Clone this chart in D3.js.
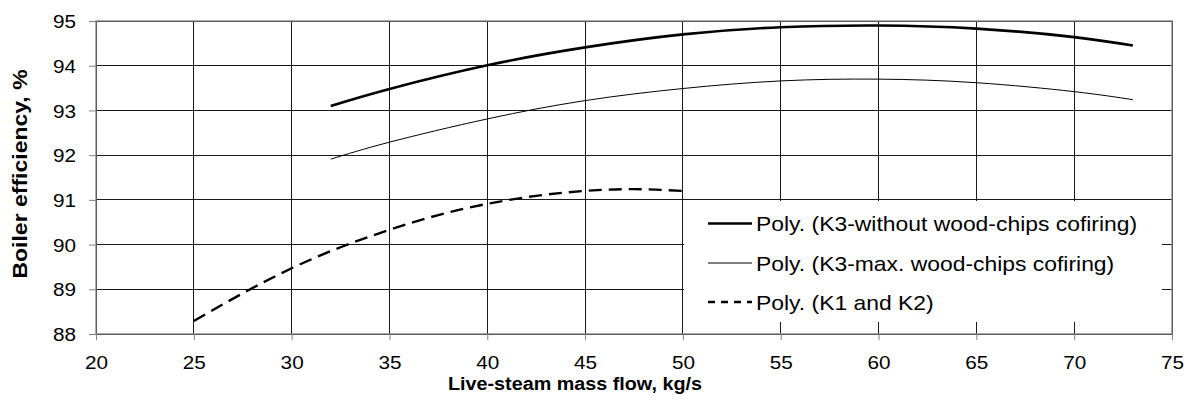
<!DOCTYPE html>
<html>
<head>
<meta charset="utf-8">
<script src="https://cdnjs.cloudflare.com/ajax/libs/d3/7.8.5/d3.min.js"></script>
<style>
body { margin: 0; background: #fff; }
text { font-family: Arial, "Liberation Sans", sans-serif; fill: #000; }
</style>
</head>
<body>
<div id="chart-area"></div>
<script>
// tick values
const xTicks = [20, 25, 30, 35, 40, 45, 50, 55, 60, 65, 70, 75];
const yTicks = [88, 89, 90, 91, 92, 93, 94, 95];

// series (Excel poly trendlines)
const k3NoChipsX = [32, 35, 40, 45, 50, 55, 60, 65, 70, 73];
const k3NoChipsY = [93.10, 93.48, 94.01, 94.41, 94.70, 94.86, 94.90, 94.83, 94.64, 94.45];
const k3MaxChipsX = [32, 35, 40, 45, 50, 55, 60, 65, 70, 73];
const k3MaxChipsY = [91.91, 92.29, 92.81, 93.22, 93.49, 93.66, 93.70, 93.62, 93.42, 93.24];
const k1k2X = [25, 27.5, 30, 32.5, 35, 37.5, 40, 42.5, 45, 47.5, 50];
const k1k2Y = [88.29, 88.91, 89.47, 89.94, 90.33, 90.66, 90.91, 91.09, 91.20, 91.24, 91.20];

const seriesNames = [
    "Poly. (K3-without wood-chips cofiring)",
    "Poly. (K3-max. wood-chips cofiring)",
    "Poly. (K1 and K2)"
];

const MARGIN = { LEFT: 96, RIGHT: 20, TOP: 21, BOTTOM: 69 };
const WIDTH = 1192 - MARGIN.LEFT - MARGIN.RIGHT;
const HEIGHT = 403 - MARGIN.TOP - MARGIN.BOTTOM;

const svg = d3.select("#chart-area").append("svg")
    .attr("width", 1192)
    .attr("height", 403);

const g = svg.append("g")
    .attr("transform", `translate(${MARGIN.LEFT}, ${MARGIN.TOP})`);

const x = d3.scaleLinear().domain([20, 75]).range([0, WIDTH]);
const y = d3.scaleLinear().domain([88, 95]).range([HEIGHT, 0]);

// gridlines
g.selectAll(".vgrid").data(xTicks).enter().append("line")
    .attr("class", "vgrid")
    .attr("x1", d => x(d)).attr("x2", d => x(d))
    .attr("y1", 0).attr("y2", HEIGHT)
    .attr("stroke", "#1a1a1a")
    .attr("shape-rendering", "crispEdges");

g.selectAll(".hgrid").data(yTicks).enter().append("line")
    .attr("class", "hgrid")
    .attr("x1", 0).attr("x2", WIDTH)
    .attr("y1", d => y(d)).attr("y2", d => y(d))
    .attr("stroke", "#1a1a1a")
    .attr("shape-rendering", "crispEdges");

// plot border
g.append("rect")
    .attr("width", WIDTH)
    .attr("height", HEIGHT)
    .attr("fill", "none")
    .attr("stroke", "#808080")
    .attr("stroke-width", 1.3);

const TICK_SX = 1.12;

const xAxisCall = d3.axisBottom(x).tickValues(xTicks).tickSize(6).tickSizeOuter(0)
    .tickFormat(d3.format("d"));
const xAxis = g.append("g")
    .attr("class", "x axis")
    .attr("transform", `translate(0, ${HEIGHT})`)
    .call(xAxisCall);
xAxis.select(".domain").remove();
xAxis.selectAll("line").attr("stroke", "#808080");
xAxis.selectAll("text")
    .attr("y", 35)
    .attr("dy", 0)
    .attr("transform", `scale(${TICK_SX},1)`)
    .style("font-size", "18.5px")
    .attr("fill", "#000");

const yAxisCall = d3.axisLeft(y).tickValues(yTicks).tickSize(7).tickSizeOuter(0)
    .tickFormat(d3.format("d"));
const yAxis = g.append("g")
    .attr("class", "y axis")
    .call(yAxisCall);
yAxis.select(".domain").remove();
yAxis.selectAll("line").attr("stroke", "#808080");
yAxis.selectAll("text")
    .attr("x", -20 / TICK_SX)
    .attr("dy", "0.36em")
    .attr("transform", `scale(${TICK_SX},1)`)
    .style("font-size", "18.5px")
    .attr("fill", "#000");

// curves
const line = d3.line()
    .x(d => x(d[0]))
    .y(d => y(d[1]))
    .curve(d3.curveNatural);

const series = [
    { pts: d3.zip(k3NoChipsX, k3NoChipsY), width: 2.6, dash: null },
    { pts: d3.zip(k3MaxChipsX, k3MaxChipsY), width: 1, dash: null },
    { pts: d3.zip(k1k2X, k1k2Y), width: 2.4, dash: "13,7" }
];

g.selectAll(".curve").data(series).enter().append("path")
    .attr("class", "curve")
    .attr("d", d => line(d.pts))
    .attr("fill", "none")
    .attr("stroke", "#000")
    .attr("stroke-width", d => d.width)
    .attr("stroke-dasharray", d => d.dash);

// legend
const legend = svg.append("g");
legend.append("rect")
    .attr("x", 684).attr("y", 201)
    .attr("width", 478).attr("height", 121)
    .attr("fill", "#fff");

const legendRows = [223.5, 263, 302];
const legendDash = [null, null, "7,6"];

legend.selectAll(".lgline").data(seriesNames).enter().append("line")
    .attr("x1", 708).attr("x2", 752)
    .attr("y1", (d, i) => legendRows[i]).attr("y2", (d, i) => legendRows[i])
    .attr("stroke", "#000")
    .attr("stroke-width", (d, i) => series[i].width)
    .attr("stroke-dasharray", (d, i) => legendDash[i]);

legend.selectAll(".lgtext").data(seriesNames).enter().append("text")
    .attr("transform", (d, i) => `translate(756, ${legendRows[i] + 7.5}) scale(1.145,1)`)
    .style("font-size", "20px")
    .text(d => d);

// axis titles
svg.append("text")
    .attr("transform", "translate(575, 390) scale(1.13,1)")
    .attr("text-anchor", "middle")
    .style("font-size", "17.5px")
    .style("font-weight", "bold")
    .text("Live-steam mass flow, kg/s");

svg.append("text")
    .attr("transform", "translate(27, 174) rotate(-90) scale(1.18,1)")
    .attr("text-anchor", "middle")
    .style("font-size", "19.5px")
    .style("font-weight", "bold")
    .text("Boiler efficiency, %");
</script>
</body>
</html>
